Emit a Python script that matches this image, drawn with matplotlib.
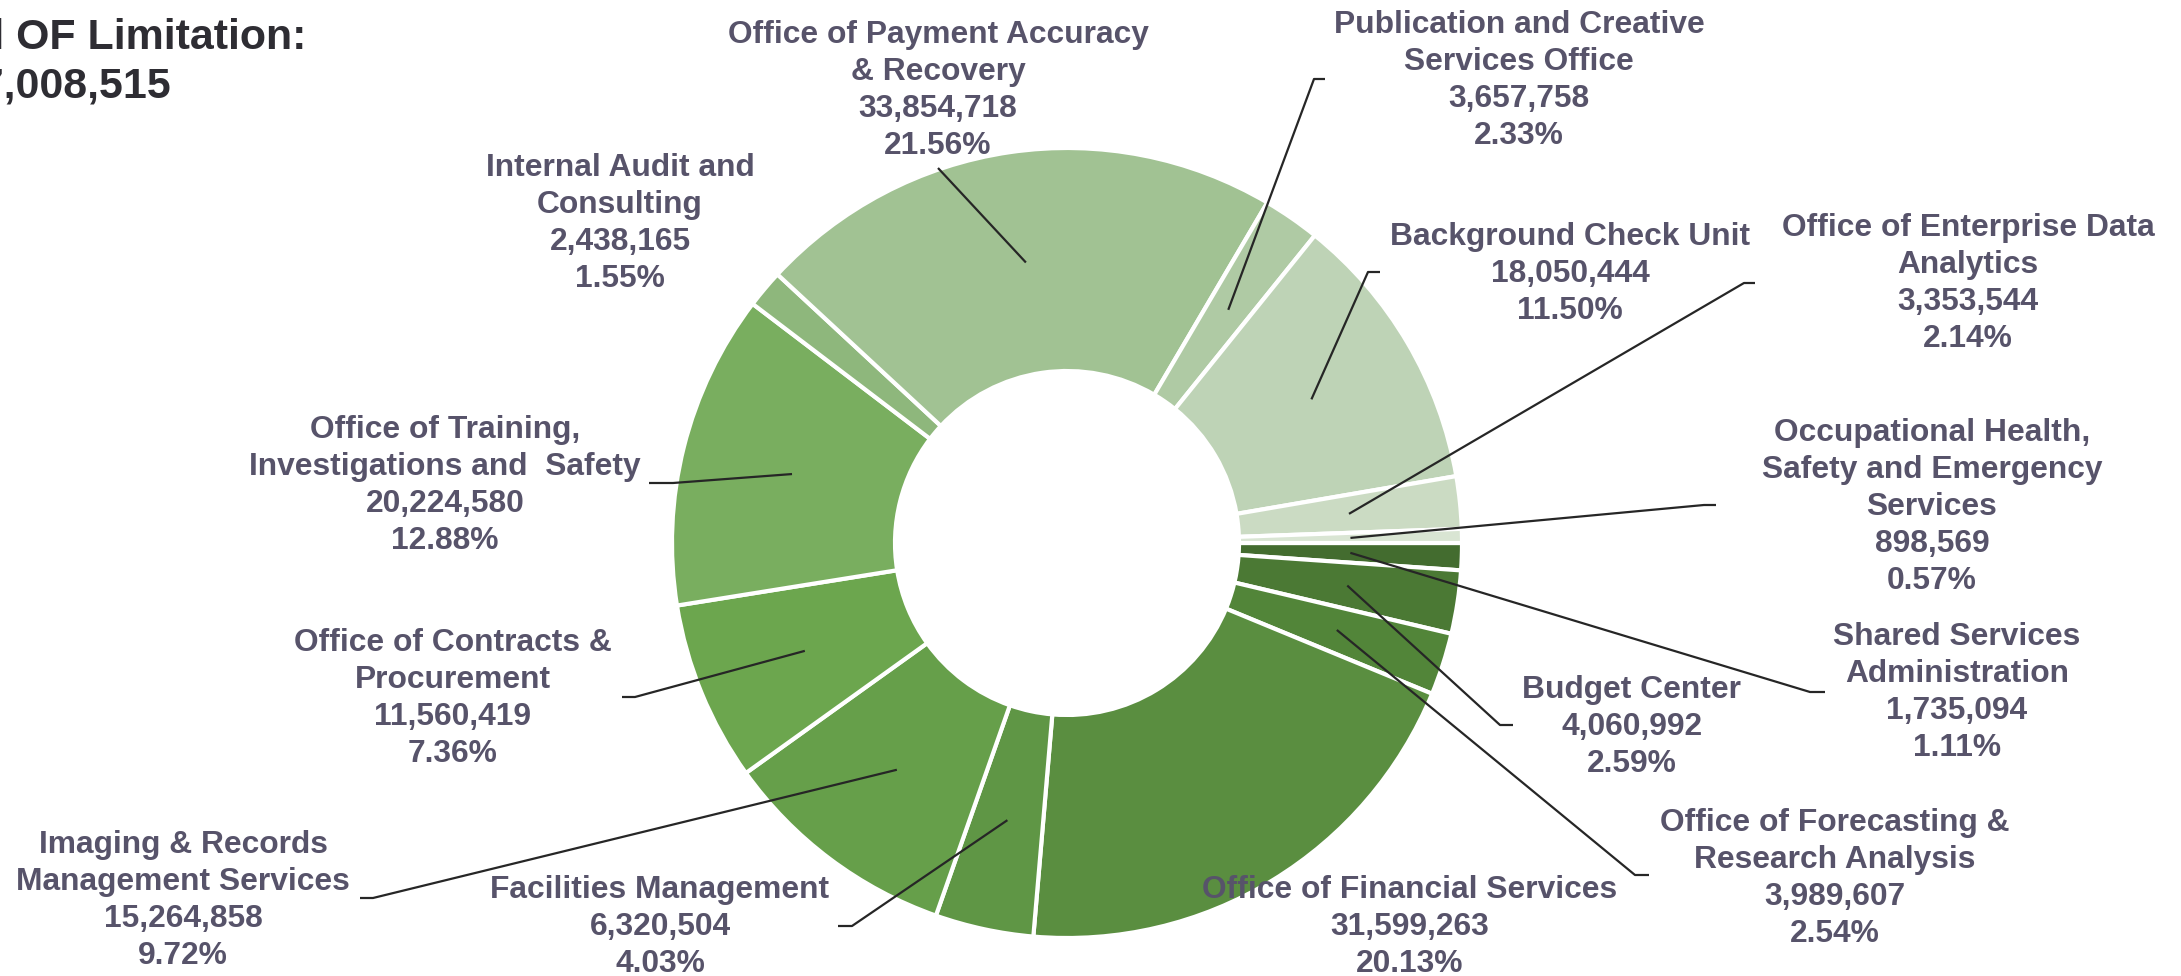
import math
import matplotlib
matplotlib.use("Agg")
import matplotlib.pyplot as plt

# ---------------- data (clockwise from 3 o'clock) ----------------
names = [
    "Shared Services\nAdministration",
    "Budget Center",
    "Office of Forecasting &\nResearch Analysis",
    "Office of Financial Services",
    "Facilities Management",
    "Imaging & Records\nManagement Services",
    "Office of Contracts &\nProcurement",
    "Office of Training,\nInvestigations and  Safety",
    "Internal Audit and\nConsulting",
    "Office of Payment Accuracy\n& Recovery",
    "Publication and Creative\nServices Office",
    "Background Check Unit",
    "Office of Enterprise Data\nAnalytics",
    "Occupational Health,\nSafety and Emergency\nServices",
]
values = [1735094, 4060992, 3989607, 31599263, 6320504, 15264858, 11560419,
          20224580, 2438165, 33854718, 3657758, 18050444, 3353544, 898569]
colors = ["#436c2f", "#4b7934", "#528539", "#5a8e40", "#5f9645", "#669f4a",
          "#6ca64e", "#79ae5f", "#8eb77c", "#a1c293", "#afcaa4", "#bed3b6",
          "#cbdbc3", "#d9e5d3"]
title_line1 = "Total OF Limitation:"

# ---------------- layout (pixel coordinates, y downward) ----------------
W, H = 2181, 976
center = (1067, 543)
r_out, r_in = 395, 172
label_cx = [1957, 1632, 1835, 1410, 660, 183, 453, 445, 620, 938, 1519, 1570, 1968, 1932]
label_y0 = [637, 690, 823, 890, 890, 845, 643, 430, 168, 35, 25, 237, 228, 433]
line_step = 37
# leader: elbow point and end of the short horizontal tick (None = no line)
elbow = [(1810, 692), (1500, 725), (1635, 875), None, (852, 926), (373, 898),
         (635, 697), (673, 483), None, (938, 168), (1314, 79), (1368, 272),
         (1744, 283), (1704, 505)]
tick_end = [(1825, 692), (1513, 725), (1649, 875), None, (838, 926), (360, 898),
            (622, 697), (649, 483), None, (938, 168), (1325, 79), (1380, 272),
            (1755, 283), (1716, 505)]

text_color = "#57536a"
line_color = "#262626"
fs = 22.9

fig = plt.figure(figsize=(W / 100, H / 100), dpi=100)
ax = fig.add_axes([0, 0, 1, 1])

wedges, _ = ax.pie(values, colors=colors, startangle=0, counterclock=True,
                   radius=r_out, center=center,
                   wedgeprops=dict(width=r_out - r_in, edgecolor="white", linewidth=3))
ax.set_xlim(0, W)
ax.set_ylim(H, 0)
ax.axis("off")

total = sum(values)
r_mid = (r_out + r_in) / 2
for i, w in enumerate(wedges):
    ang = math.radians((w.theta1 + w.theta2) / 2)
    sx = center[0] + r_mid * math.cos(ang)
    sy = center[1] + r_mid * math.sin(ang)
    if elbow[i] is not None:
        ax.plot([sx, elbow[i][0], tick_end[i][0]], [sy, elbow[i][1], tick_end[i][1]],
                color=line_color, lw=1.6, solid_capstyle="butt", zorder=3)
    lines = names[i].split("\n") + [f"{values[i]:,}", f"{values[i] / total * 100:.2f}%"]
    for k, s in enumerate(lines):
        ax.text(label_cx[i], label_y0[i] + k * line_step, s, ha="center", va="center",
                fontsize=fs, fontweight="bold", family="Liberation Sans",
                color=text_color, zorder=4)

ax.text(-95, 38, title_line1, ha="left", va="center", fontsize=30.9, fontweight="bold",
        family="Liberation Sans", color="#2e2d33")
ax.text(-92, 86, f"${total:,}", ha="left", va="center", fontsize=30.9, fontweight="bold",
        family="Liberation Sans", color="#2e2d33")

fig.savefig("out.png", dpi=100)
